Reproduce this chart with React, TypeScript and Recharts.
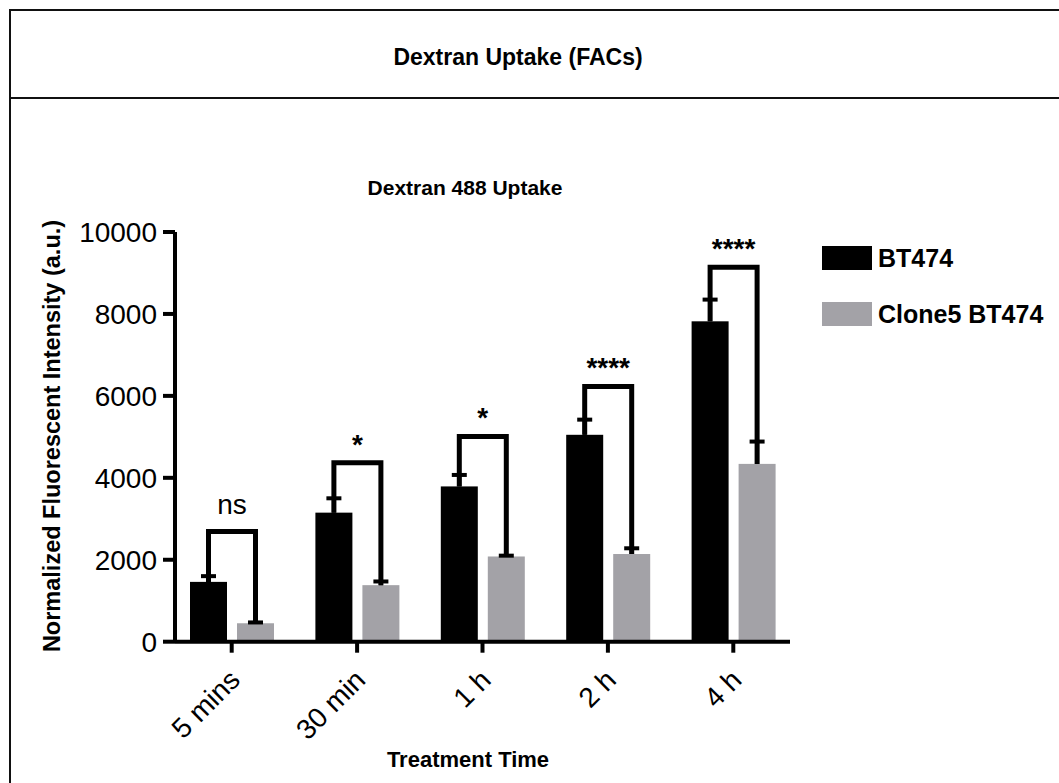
import React from 'react';
import { BarChart, Bar, XAxis, YAxis } from 'recharts';

const categories = ['5 mins', '30 min', '1 h', '2 h', '4 h'];
const bt474 = [1460, 3150, 3790, 5050, 7820];
const bt474Err = [140, 350, 280, 370, 530];
const clone5 = [450, 1380, 2080, 2140, 4340];
const clone5Err = [20, 90, 20, 140, 545];
const bracketTops = [2690, 4370, 5010, 6230, 9140];
const sigLabels = ['ns', '*', '*', '****', '****'];
const yTicks = [0, 2000, 4000, 6000, 8000, 10000];
const seriesNames = ['BT474', 'Clone5 BT474'];
const seriesColors = ['#000000', '#a3a2a7'];

const data = categories.map((c, i) => ({
  time: c,
  bt474: bt474[i],
  bt474Err: bt474Err[i],
  clone5: clone5[i],
  clone5Err: clone5Err[i],
  bracket: bracketTops[i],
  sig: sigLabels[i],
}));

const FONT = '"Liberation Sans", Arial, sans-serif';
const BAR_SIZE = 37;
const BAR_GAP = 10;

const ErrorCap = ({ cx, top, errPx }: any) => (
  <g>
    <line x1={cx} x2={cx} y1={top} y2={top - errPx} stroke="#000" strokeWidth={4} />
    <line x1={cx - 7.5} x2={cx + 7.5} y1={top - errPx} y2={top - errPx} stroke="#000" strokeWidth={4} />
  </g>
);

const BlackShape = (props: any) => {
  const { x, y, width, height, fill, payload } = props;
  const ppu = height / payload.bt474;
  const cx = x + width / 2;
  return (
    <g>
      <rect x={x} y={y} width={width} height={height} fill={fill} />
      <ErrorCap cx={cx} top={y} errPx={payload.bt474Err * ppu} />
    </g>
  );
};

const GreyShape = (props: any) => {
  const { x, y, width, height, fill, payload } = props;
  const ppu = height / payload.clone5;
  const cx = x + width / 2;
  const base = y + height;
  const blackCx = cx - (width + BAR_GAP);
  const blackTop = base - payload.bt474 * ppu;
  const bTop = base - payload.bracket * ppu;
  const isNs = payload.sig === 'ns';
  const midX = (cx + blackCx) / 2;
  return (
    <g>
      <rect x={x} y={y} width={width} height={height} fill={fill} />
      <ErrorCap cx={cx} top={y} errPx={payload.clone5Err * ppu} />
      <path
        d={`M${blackCx},${blackTop} L${blackCx},${bTop} L${cx},${bTop} L${cx},${y}`}
        fill="none"
        stroke="#000"
        strokeWidth={5}
        strokeLinejoin="miter"
      />
      <text
        x={midX}
        y={isNs ? bTop - 17 : bTop - 9}
        textAnchor="middle"
        fontSize={28}
        fontWeight={isNs ? 'normal' : 'bold'}
        fontFamily={FONT}
        fill="#000"
      >
        {payload.sig}
      </text>
    </g>
  );
};

const XTick = (props: any) => {
  const { x, y, payload } = props;
  const tx = x + 10;
  const ty = y + 27;
  return (
    <text
      x={tx}
      y={ty}
      textAnchor="end"
      transform={`rotate(-45, ${tx}, ${ty})`}
      fontSize={28}
      fontFamily={FONT}
      fill="#000"
    >
      {payload.value}
    </text>
  );
};

export default function App() {
  return (
    <div
      style={{
        position: 'absolute',
        left: 0,
        top: 0,
        width: 1059,
        height: 783,
        overflow: 'hidden',
        background: '#fff',
        fontFamily: FONT,
      }}
    >
      <div
        style={{
          position: 'absolute',
          left: 8.5,
          top: 9,
          width: 1200,
          height: 1000,
          border: '2.5px solid #111',
          boxSizing: 'border-box',
        }}
      />
      <div
        style={{
          position: 'absolute',
          left: 8.5,
          top: 96.5,
          width: 1200,
          height: 2.5,
          background: '#111',
        }}
      />
      <div
        style={{
          position: 'absolute',
          left: 218,
          width: 600,
          top: 43,
          lineHeight: '28px',
          fontSize: 23,
          fontWeight: 'bold',
          textAlign: 'center',
          color: '#000',
        }}
      >
        Dextran Uptake (FACs)
      </div>
      <div
        style={{
          position: 'absolute',
          left: 215,
          width: 500,
          top: 175,
          lineHeight: '26px',
          fontSize: 21,
          fontWeight: 'bold',
          textAlign: 'center',
          color: '#000',
        }}
      >
        Dextran 488 Uptake
      </div>
      <div
        style={{
          position: 'absolute',
          left: 52 - 260,
          width: 520,
          top: 436 - 14,
          lineHeight: '28px',
          fontSize: 23.5,
          fontWeight: 'bold',
          textAlign: 'center',
          color: '#000',
          whiteSpace: 'nowrap',
          transform: 'rotate(-90deg)',
        }}
      >
        Normalized Fluorescent Intensity (a.u.)
      </div>
      <div
        style={{
          position: 'absolute',
          left: 218,
          width: 500,
          top: 747,
          lineHeight: '26px',
          fontSize: 22,
          fontWeight: 'bold',
          textAlign: 'center',
          color: '#000',
        }}
      >
        Treatment Time
      </div>
      {seriesNames.map((name, i) => (
        <div
          key={name}
          style={{
            position: 'absolute',
            left: 822,
            top: 246 + i * 56,
            height: 24,
            display: 'flex',
            alignItems: 'center',
            whiteSpace: 'nowrap',
          }}
        >
          <div style={{ width: 50, height: 24, background: seriesColors[i] }} />
          <span style={{ marginLeft: 6, fontSize: 25, fontWeight: 'bold', color: '#000', lineHeight: '24px' }}>
            {name}
          </span>
        </div>
      ))}
      <div style={{ position: 'absolute', left: 0, top: 0 }}>
        <BarChart
          width={1059}
          height={783}
          data={data}
          margin={{ top: 232, left: 75, right: 269, bottom: 81.3 }}
          barSize={BAR_SIZE}
          barGap={BAR_GAP}
        >
          <XAxis
            dataKey="time"
            height={60}
            padding={{ left: -6, right: -6 }}
            axisLine={{ stroke: '#000', strokeWidth: 4 }}
            tickLine={{ stroke: '#000', strokeWidth: 4 }}
            tickSize={11}
            tick={<XTick />}
            interval={0}
          />
          <YAxis
            width={100}
            domain={[0, 10000]}
            ticks={yTicks}
            interval={0}
            axisLine={{ stroke: '#000', strokeWidth: 4 }}
            tickLine={{ stroke: '#000', strokeWidth: 4 }}
            tickSize={12}
            tickMargin={6}
            tick={{ fill: '#000', fontSize: 28, fontFamily: FONT }}
          />
          <Bar dataKey="bt474" fill={seriesColors[0]} isAnimationActive={false} shape={<BlackShape />} />
          <Bar dataKey="clone5" fill={seriesColors[1]} isAnimationActive={false} shape={<GreyShape />} />
        </BarChart>
      </div>
    </div>
  );
}
